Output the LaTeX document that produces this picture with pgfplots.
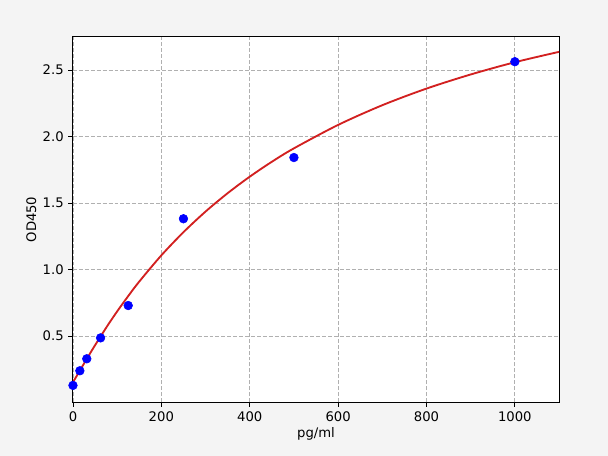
\documentclass[border=0pt]{standalone}
\usepackage{fontspec}
\setmainfont{DejaVu Sans}
\usepackage{pgfplots}
\pgfplotsset{compat=1.18}
\definecolor{bgc}{RGB}{244,244,244}
\definecolor{fitred}{RGB}{210,32,32}
\definecolor{gridc}{RGB}{176,176,176}
\begin{document}
\begin{tikzpicture}
\fill[bgc] (-55.3pt,-40.9pt) rectangle (405.5pt,304.7pt);
\useasboundingbox (-55.3pt,-40.9pt) rectangle (405.5pt,304.7pt);
\begin{axis}[
  at={(0,0)}, anchor=south west,
  scale only axis, width=368.4pt, height=276.7pt,
  xmin=0, xmax=1100, ymin=0.005, ymax=2.748,
  xtick={0,200,400,600,800,1000},
  ytick={0.5,1.0,1.5,2.0,2.5},
  yticklabel style={/pgf/number format/.cd,fixed,fixed zerofill,precision=1},
  /pgf/number format/1000 sep={},
  /pgf/number format/assume math mode=true,
  tick label style={font=\fontsize{10}{12}\selectfont},
  label style={font=\fontsize{10}{12}\selectfont},
  xlabel={pg/ml}, ylabel={OD450},
  tick pos=left, tick align=outside,
  major tick length=3.5pt,
  every tick/.style={black, line width=0.6pt},
  axis line style={black, line width=0.8pt},
  axis background/.style={fill=white},
  grid=major,
  major grid style={gridc, dash pattern=on 3pt off 1.5pt, line width=0.6pt},
  xlabel style={yshift=2pt},
  ylabel style={yshift=-2pt},
  clip=true,
]
\addplot[only marks, mark=*, mark size=3.3pt, color=blue, mark options={fill=blue, draw=blue}]
 coordinates {(0,0.13) (15.6,0.24) (31.25,0.33) (62.5,0.487) (125,0.73) (250,1.382) (500,1.842) (1000,2.562)};
\addplot[color=fitred, line width=1.4pt, smooth, tension=0.5]
 coordinates {(0,0.155) (5,0.1815) (10,0.2095) (20,0.266) (30,0.322) (45,0.405) (62.5,0.498) (80,0.588) (100,0.686) (125,0.801) (150,0.910) (200,1.107) (250,1.281) (300,1.436) (350,1.574) (400,1.698) (450,1.810) (500,1.911) (600,2.087) (700,2.235) (800,2.360) (900,2.466) (1000,2.558) (1100,2.636)};
\end{axis}
\end{tikzpicture}
\end{document}
